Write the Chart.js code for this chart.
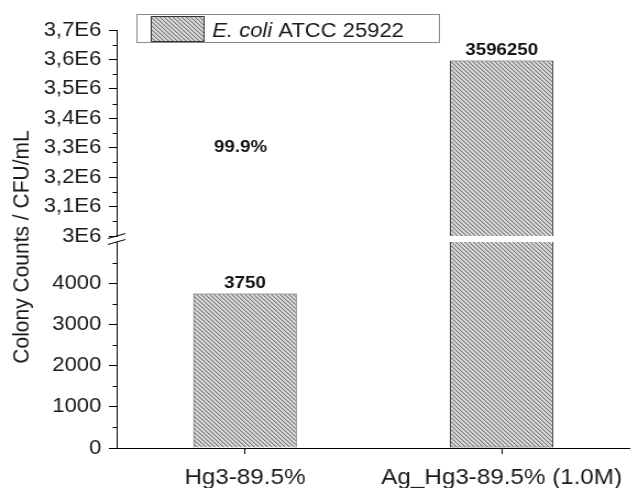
<!DOCTYPE html>
<html>
<head>
<meta charset="utf-8">
<script src="https://cdn.jsdelivr.net/npm/chart.js@4.4.0/dist/chart.umd.min.js"></script>
<style>
    html, body { margin: 0; padding: 0; background: #fff; overflow: hidden; }
    /* the original figure is slightly stretched horizontally */
    #wrap { position: absolute; left: 0; top: 0; width: 577px; height: 488px; transform: scaleX(1.1); transform-origin: 0 0; }
</style>
</head>
<body>
<div id="wrap"><canvas id="myChart"></canvas></div>
<script>
// data
const categories = ['Hg3-89.5%', 'Ag_Hg3-89.5% (1.0M)'];
const counts = [3750, 3596250];
const seriesName = 'E. coli ATCC 25922';
const italicPart = 'E. coli';
const reductionText = '99.9%';

// broken y axis: lower and upper segments
const lowRange = [0, 5000];
const lowStep = 1000;
const highRange = [3000000, 3700000];
const highStep = 100000;

const FONT = '"Liberation Sans", Arial, sans-serif';
const TEXT = '#1a1a1a';

const makeHatch = (ctx) => {
    const c = document.createElement('canvas');
    c.width = 4; c.height = 4;
    const g = c.getContext('2d');
    g.fillStyle = '#dadada';
    g.fillRect(0, 0, 4, 4);
    for (let i = 0; i < 4; i++) {
        g.fillStyle = '#767676';
        g.fillRect(i, i, 1, 1);
        g.fillStyle = '#bdbdbd';
        g.fillRect((i + 1) % 4, i, 1, 1);
    }
    return ctx.createPattern(c, 'repeat');
};

const fmtE6 = v => String(Math.round(v / 1e5) / 10).replace('.', ',') + 'E6';

// minor ticks + break marks on the y axis
const brokenAxis = {
    id: 'brokenAxis',
    afterDraw(chart) {
        const {ctx, scales} = chart;
        const hi = scales.yHigh, lo = scales.yLow;
        ctx.save();
        ctx.strokeStyle = '#000';
        ctx.lineWidth = 1;
        [hi, lo].forEach(s => {
            const step = s.ticks[1].value - s.ticks[0].value;
            s.ticks.forEach(t => {
                const v = t.value + step / 2;
                if (v >= s.max) return;
                const y = Math.round(s.getPixelForValue(v)) + 0.5;
                ctx.beginPath();
                ctx.moveTo(s.right - 3.6, y);
                ctx.lineTo(s.right, y);
                ctx.stroke();
            });
        });
        const x = lo.right;
        [hi.bottom, lo.top].forEach(y => {
            ctx.beginPath();
            ctx.moveTo(x - 8, y + 2.5);
            ctx.lineTo(x + 8, y - 2.5);
            ctx.stroke();
        });
        ctx.restore();
    }
};

// value labels and the reduction percentage
const valueLabels = {
    id: 'valueLabels',
    afterDatasetsDraw(chart) {
        const {ctx} = chart;
        ctx.save();
        ctx.font = 'bold 17px ' + FONT;
        ctx.fillStyle = '#111';
        ctx.textAlign = 'center';
        ctx.textBaseline = 'bottom';
        counts.forEach((v, i) => {
            const bar = chart.getDatasetMeta(v > highRange[0] ? 1 : 0).data[i];
            ctx.fillText(String(v), bar.x, bar.y - 2);
        });
        const bar0 = chart.getDatasetMeta(0).data[0];
        ctx.textBaseline = 'middle';
        ctx.fillText(reductionText, bar0.x - 4, chart.scales.yHigh.getPixelForValue(3300000));
        ctx.restore();
    }
};

// legend box with italic species name + y axis title
const legendBox = {
    id: 'legendBox',
    afterDraw(chart) {
        const {ctx} = chart;
        ctx.save();
        ctx.fillStyle = '#fff';
        ctx.fillRect(124.5, 14.5, 275, 28);
        ctx.strokeStyle = '#8a8a8a';
        ctx.lineWidth = 1;
        ctx.strokeRect(124.5, 14.5, 275, 28);
        ctx.fillStyle = chart.data.datasets[0].backgroundColor;
        ctx.fillRect(137.5, 16.5, 48, 25);
        ctx.strokeStyle = '#333';
        ctx.strokeRect(137.5, 16.5, 48, 25);

        ctx.fillStyle = TEXT;
        ctx.textAlign = 'left';
        ctx.textBaseline = 'alphabetic';
        let x = 193;
        const rest = seriesName.slice(italicPart.length);
        ctx.font = 'italic 20px ' + FONT;
        ctx.fillText(italicPart, x, 36.5);
        x += ctx.measureText(italicPart).width;
        ctx.font = '20px ' + FONT;
        ctx.fillText(rest, x, 36.5);

        ctx.font = '21px ' + FONT;
        ctx.translate(20, 247);
        ctx.rotate(-Math.PI / 2);
        ctx.textAlign = 'center';
        ctx.textBaseline = 'middle';
        ctx.fillText('Colony Counts / CFU/mL', 0, 0);
        ctx.restore();
    }
};

const displayChart = () => {
    const canvas = document.getElementById('myChart');
    const hatch = makeHatch(canvas.getContext('2d'));
    Chart.defaults.font.family = FONT;
    Chart.defaults.color = TEXT;

    const barStyle = {
        backgroundColor: hatch,
        borderColor: '#3a3a3a',
        borderWidth: 1,
        grouped: false,
        barPercentage: 0.403,
        categoryPercentage: 1
    };

    const yAxis = {
        position: 'left',
        stack: 'y',
        grid: { drawOnChartArea: false, tickLength: 7, tickColor: '#000' },
        border: { color: '#000', width: 1 },
        afterFit: s => { s.width = 106; }
    };

    new Chart(canvas, {
        type: 'bar',
        data: {
            labels: categories,
            datasets: [
                {
                    ...barStyle,
                    label: seriesName,
                    yAxisID: 'yLow',
                    data: counts.map(v => Math.min(v, lowRange[1])),
                    borderSkipped: c => counts[c.dataIndex] > lowRange[1] ? 'end' : 'start'
                },
                {
                    ...barStyle,
                    label: seriesName,
                    yAxisID: 'yHigh',
                    data: counts.map(v => v > highRange[0] ? v : null),
                    borderSkipped: 'start'
                }
            ]
        },
        options: {
            animation: false,
            responsive: true,
            maintainAspectRatio: false,
            layout: { padding: { top: 30, right: 2, left: 0, bottom: 0 } },
            plugins: { legend: { display: false }, tooltip: { enabled: false } },
            scales: {
                x: {
                    grid: { drawOnChartArea: false, offset: false, tickLength: 6, tickColor: '#000' },
                    border: { color: '#000', width: 1 },
                    ticks: { font: { size: 22 }, color: TEXT, padding: 11, maxRotation: 0, autoSkip: false },
                    afterFit: s => { s.height = 40; }
                },
                yLow: {
                    ...yAxis,
                    stackWeight: 206,
                    min: lowRange[0],
                    max: lowRange[1],
                    ticks: { stepSize: lowStep, autoSkip: false, font: { size: 20 }, color: TEXT, padding: 7, callback: v => String(v) },
                    afterBuildTicks: s => { s.ticks = s.ticks.filter(t => t.value < lowRange[1]); }
                },
                yGap: {
                    position: 'left',
                    stack: 'y',
                    stackWeight: 6,
                    grid: { display: false },
                    border: { display: false },
                    ticks: { display: false },
                    afterFit: s => { s.width = 106; }
                },
                yHigh: {
                    ...yAxis,
                    stackWeight: 206,
                    min: highRange[0],
                    max: highRange[1],
                    ticks: { stepSize: highStep, autoSkip: false, font: { size: 20 }, color: TEXT, padding: 7, callback: v => fmtE6(v) }
                }
            }
        },
        plugins: [brokenAxis, valueLabels, legendBox]
    });
};

displayChart();
</script>
</body>
</html>
